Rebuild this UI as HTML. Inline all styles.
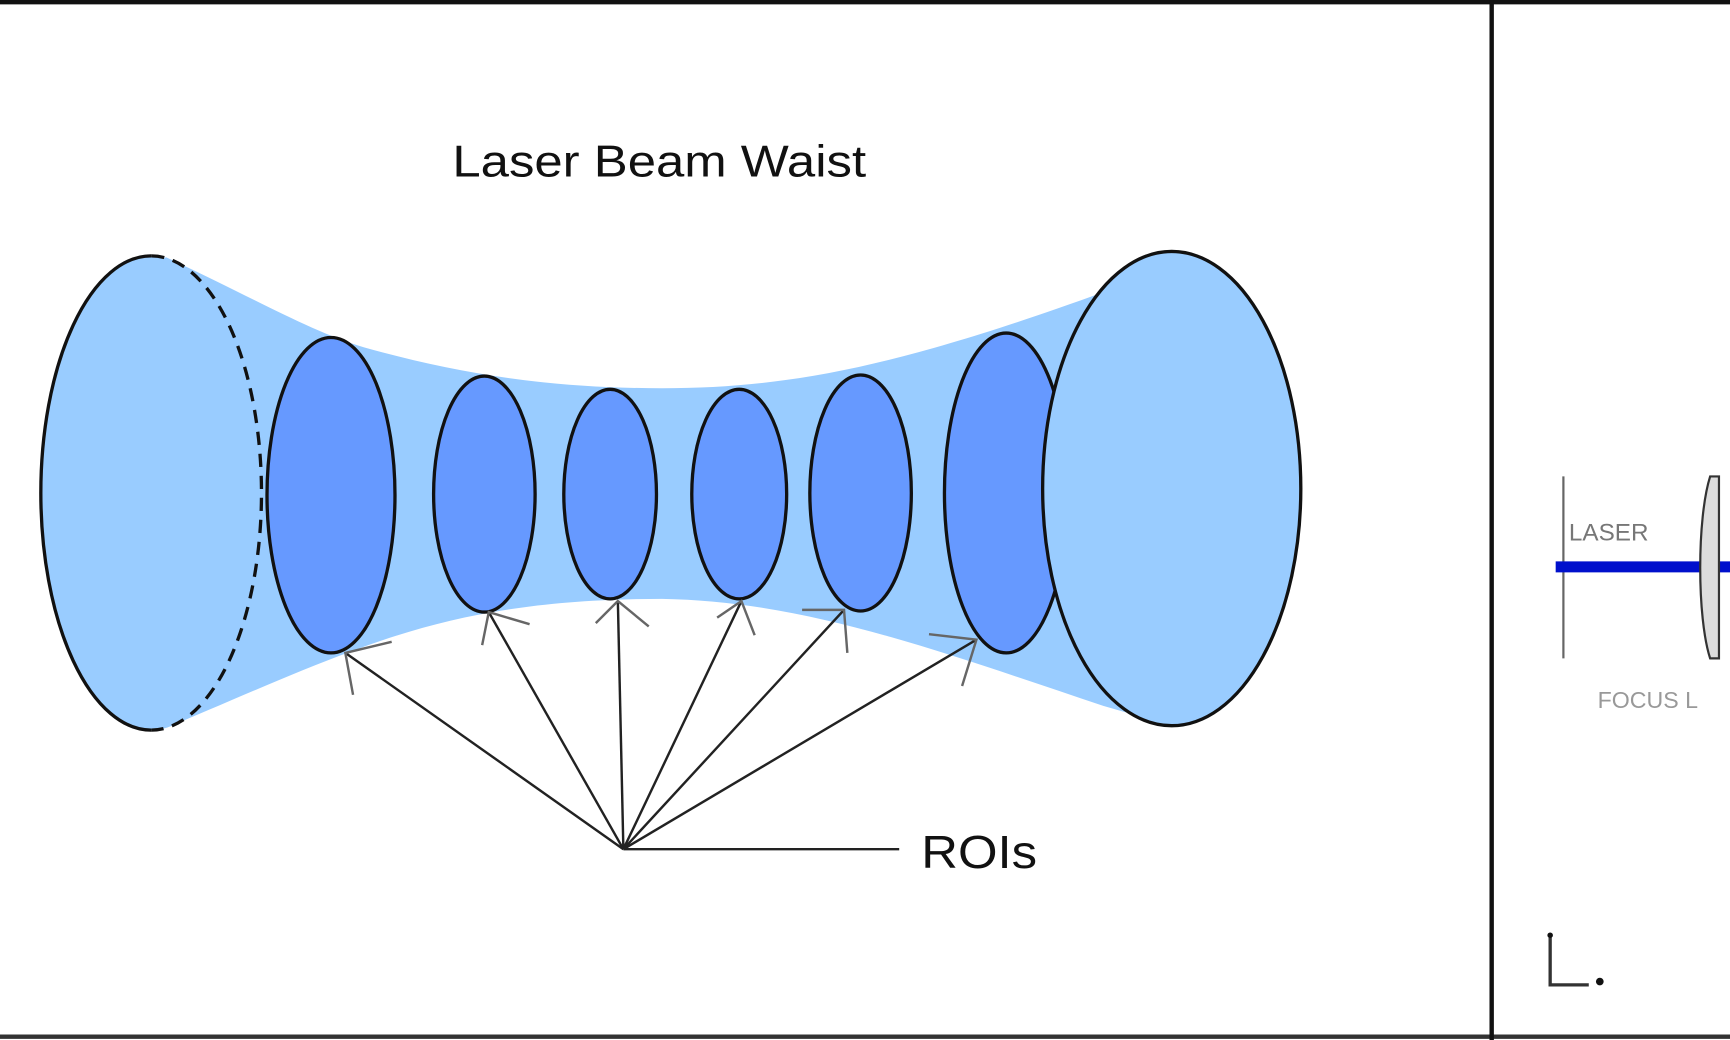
<!DOCTYPE html>
<html><head><style>html,body{margin:0;padding:0;background:#fff;}svg{display:block;}</style></head>
<body>
<svg width="1730" height="1040" viewBox="0 0 1568 943" preserveAspectRatio="none" xmlns="http://www.w3.org/2000/svg">
<rect width="1568" height="943" fill="#fff"/>
<line x1="0" y1="2" x2="1568" y2="2" stroke="#111" stroke-width="4"/>
<line x1="0" y1="940" x2="1568" y2="940" stroke="#333" stroke-width="4"/>
<line x1="1352" y1="0" x2="1352" y2="943" stroke="#111" stroke-width="4"/>
<text x="410" y="160" font-family="Liberation Sans, sans-serif" font-size="40" fill="#111" textLength="375" lengthAdjust="spacingAndGlyphs">Laser Beam Waist</text>
<path d="M150,233 C230,270 280,300 330,315 C420,340 500,352 600,352 C720,352 820,330 1000,265 L1062,228 L1062,658 L1000,640 C850,590 730,545 600,543 C480,543 400,560 320,590 C260,612 200,640 150,660 Z" fill="#99ccff"/>
<ellipse cx="137" cy="447" rx="100" ry="215" fill="#99ccff"/>
<path d="M137,232 A100,215 0 0,0 137,662" fill="none" stroke="#111" stroke-width="3"/>
<path d="M137,232 A100,215 0 0,1 137,662" fill="none" stroke="#111" stroke-width="3" stroke-dasharray="12,8"/>
<g fill="#6699ff" stroke="#111" stroke-width="3">
<ellipse cx="300" cy="449" rx="58" ry="143"/>
<ellipse cx="439" cy="448" rx="46" ry="107"/>
<ellipse cx="553" cy="448" rx="42" ry="95"/>
<ellipse cx="670" cy="448" rx="43" ry="95"/>
<ellipse cx="780" cy="447" rx="46" ry="107"/>
<ellipse cx="912" cy="447" rx="56" ry="145"/>
</g>
<ellipse cx="1062" cy="443" rx="117" ry="215" fill="#99ccff" stroke="#111" stroke-width="3"/>
<g stroke="#222" stroke-width="2.2" fill="none">
<line x1="565" y1="770" x2="313" y2="592"/>
<line x1="565" y1="770" x2="443" y2="555"/>
<line x1="565" y1="770" x2="560" y2="545"/>
<line x1="565" y1="770" x2="672" y2="545"/>
<line x1="565" y1="770" x2="765" y2="553"/>
<line x1="565" y1="770" x2="885" y2="580"/>
<line x1="565" y1="770" x2="815" y2="770"/>
</g>
<g stroke="#666" stroke-width="2.2" fill="none">
<polyline points="320,630 313,592 355,582"/>
<polyline points="437,585 443,555 480,566"/>
<polyline points="540,565 560,545 588,568"/>
<polyline points="650,560 672,545 684,576"/>
<polyline points="727,553 765,553 768,592"/>
<polyline points="842,575 885,580 872,622"/>
</g>
<text x="835" y="787" font-family="Liberation Sans, sans-serif" font-size="42" fill="#111" textLength="105" lengthAdjust="spacingAndGlyphs">ROIs</text>
<line x1="1417" y1="432" x2="1417" y2="597" stroke="#666" stroke-width="2"/>
<text x="1422" y="490" font-family="Liberation Sans, sans-serif" font-size="22" fill="#777">LASER</text>
<line x1="1410" y1="514" x2="1568" y2="514" stroke="#0010cc" stroke-width="10"/>
<path d="M1550,432 C1538,470 1538,560 1550,597 L1558,597 L1558,432 Z" fill="#ddd" stroke="#333" stroke-width="2"/>
<text x="1448" y="642" font-family="Liberation Sans, sans-serif" font-size="21" fill="#999">FOCUS  L</text>
<polyline points="1405,850 1405,893 1440,893" fill="none" stroke="#333" stroke-width="3"/>
<circle cx="1405" cy="848" r="2.5" fill="#111"/>
<circle cx="1450" cy="890" r="3.5" fill="#111"/>
</svg>
</body></html>
